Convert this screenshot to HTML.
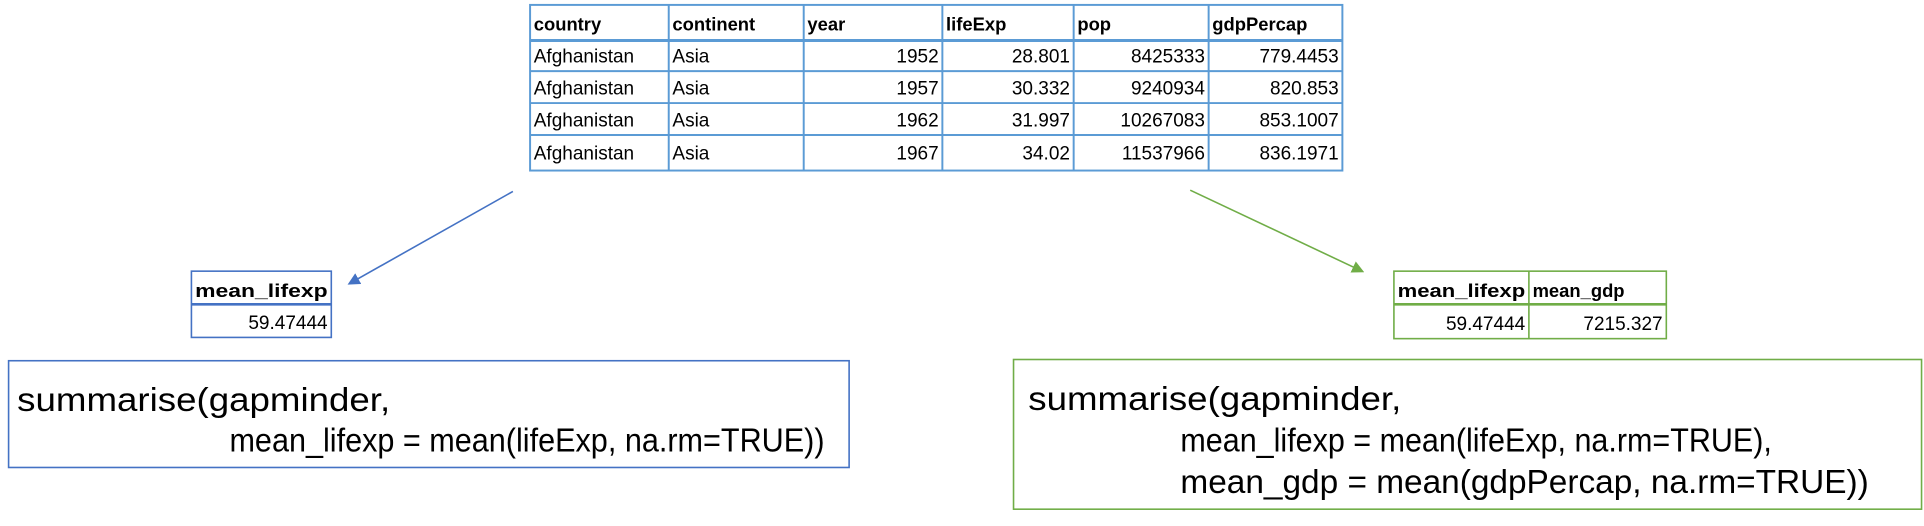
<!DOCTYPE html>
<html><head><meta charset="utf-8"><style>
html,body{margin:0;padding:0;background:#fff;}
svg{display:block;}
text{font-family:"Liberation Sans",sans-serif;fill:#000;}
.h{font-weight:bold;font-size:15px;}
.d{font-size:15.5px;}
.c{font-size:27px;}
</style></head><body>
<svg width="1924" height="526" viewBox="0 0 1568 428.7" preserveAspectRatio="none" xmlns="http://www.w3.org/2000/svg">
<defs>
<marker id="ab" markerWidth="10" markerHeight="10" refX="8" refY="5" orient="auto" markerUnits="userSpaceOnUse"><path d="M0,0 L10,5 L0,10 z" fill="#4472c4"/></marker>
<marker id="ag" markerWidth="10" markerHeight="10" refX="8" refY="5" orient="auto" markerUnits="userSpaceOnUse"><path d="M0,0 L10,5 L0,10 z" fill="#70ad47"/></marker>
</defs>
<g stroke="#5b9bd5" stroke-width="1.6" fill="none">
<rect x="432" y="4" width="662" height="135"/>
<line x1="432" y1="33" x2="1094" y2="33" stroke-width="2.5"/>
<line x1="432" y1="58" x2="1094" y2="58"/>
<line x1="432" y1="84" x2="1094" y2="84"/>
<line x1="432" y1="110" x2="1094" y2="110"/>
<line x1="545" y1="4" x2="545" y2="139"/>
<line x1="655" y1="4" x2="655" y2="139"/>
<line x1="768" y1="4" x2="768" y2="139"/>
<line x1="875" y1="4" x2="875" y2="139"/>
<line x1="985" y1="4" x2="985" y2="139"/>
</g>
<text class="h" x="435" y="25">country</text>
<text class="h" x="548" y="25">continent</text>
<text class="h" x="658" y="25">year</text>
<text class="h" x="771" y="25">lifeExp</text>
<text class="h" x="878" y="25">pop</text>
<text class="h" x="988" y="25">gdpPercap</text>
<text class="d" x="435" y="51">Afghanistan</text><text class="d" x="548" y="51">Asia</text>
<text class="d" x="765" y="51" text-anchor="end">1952</text><text class="d" x="872" y="51" text-anchor="end">28.801</text><text class="d" x="982" y="51" text-anchor="end">8425333</text><text class="d" x="1091" y="51" text-anchor="end">779.4453</text>
<text class="d" x="435" y="77">Afghanistan</text><text class="d" x="548" y="77">Asia</text>
<text class="d" x="765" y="77" text-anchor="end">1957</text><text class="d" x="872" y="77" text-anchor="end">30.332</text><text class="d" x="982" y="77" text-anchor="end">9240934</text><text class="d" x="1091" y="77" text-anchor="end">820.853</text>
<text class="d" x="435" y="103">Afghanistan</text><text class="d" x="548" y="103">Asia</text>
<text class="d" x="765" y="103" text-anchor="end">1962</text><text class="d" x="872" y="103" text-anchor="end">31.997</text><text class="d" x="982" y="103" text-anchor="end">10267083</text><text class="d" x="1091" y="103" text-anchor="end">853.1007</text>
<text class="d" x="435" y="130">Afghanistan</text><text class="d" x="548" y="130">Asia</text>
<text class="d" x="765" y="130" text-anchor="end">1967</text><text class="d" x="872" y="130" text-anchor="end">34.02</text><text class="d" x="982" y="130" text-anchor="end">11537966</text><text class="d" x="1091" y="130" text-anchor="end">836.1971</text>
<line x1="418" y1="156" x2="285" y2="231" stroke="#4472c4" stroke-width="1.3" marker-end="url(#ab)"/>
<line x1="970" y1="155" x2="1110" y2="221" stroke="#70ad47" stroke-width="1.3" marker-end="url(#ag)"/>
<g stroke="#4472c4" stroke-width="1.3" fill="none">
<rect x="156" y="221" width="114" height="54"/>
<line x1="156" y1="248" x2="270" y2="248" stroke-width="2.2"/>
</g>
<text class="h" x="159" y="242" textLength="108" lengthAdjust="spacingAndGlyphs">mean_lifexp</text>
<text class="d" x="267" y="268" text-anchor="end">59.47444</text>
<g stroke="#70ad47" stroke-width="1.3" fill="none">
<rect x="1136" y="221" width="222" height="55"/>
<line x1="1136" y1="248" x2="1358" y2="248" stroke-width="2.2"/>
<line x1="1246" y1="221" x2="1246" y2="276"/>
</g>
<text class="h" x="1139" y="242" textLength="104" lengthAdjust="spacingAndGlyphs">mean_lifexp</text>
<text class="h" x="1249" y="242">mean_gdp</text>
<text class="d" x="1243" y="269" text-anchor="end">59.47444</text>
<text class="d" x="1355" y="269" text-anchor="end">7215.327</text>
<rect x="7" y="294" width="685" height="87" fill="none" stroke="#4472c4" stroke-width="1.3"/>
<text class="c" x="14" y="335" textLength="304" lengthAdjust="spacingAndGlyphs">summarise(gapminder,</text>
<text class="c" x="187" y="368" textLength="485" lengthAdjust="spacingAndGlyphs">mean_lifexp = mean(lifeExp, na.rm=TRUE))</text>
<rect x="826" y="293" width="740" height="122" fill="none" stroke="#70ad47" stroke-width="1.3"/>
<text class="c" x="838" y="334" textLength="304" lengthAdjust="spacingAndGlyphs">summarise(gapminder,</text>
<text class="c" x="962" y="368" textLength="482" lengthAdjust="spacingAndGlyphs">mean_lifexp = mean(lifeExp, na.rm=TRUE),</text>
<text class="c" x="962" y="402" textLength="561" lengthAdjust="spacingAndGlyphs">mean_gdp = mean(gdpPercap, na.rm=TRUE))</text>
</svg>
</body></html>
